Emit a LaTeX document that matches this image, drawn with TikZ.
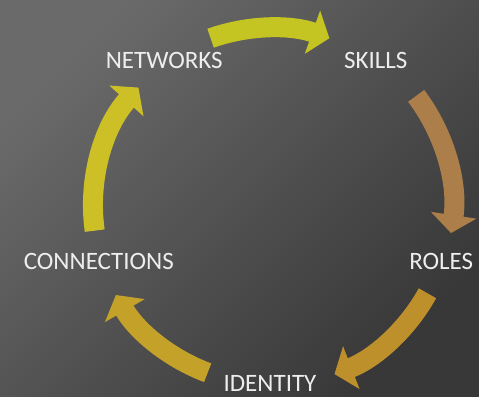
\documentclass[tikz,border=0pt]{standalone}
\usepackage{fontspec}
\setmainfont{Carlito}
\usetikzlibrary{arrows.meta}

\definecolor{bglight}{RGB}{106,106,106}
\definecolor{bgdark}{RGB}{56,56,56}
\definecolor{labeltext}{RGB}{238,238,238}
\definecolor{cyc1}{RGB}{196,196,34}
\definecolor{cyc2}{RGB}{172,126,74}
\definecolor{cyc3}{RGB}{190,144,44}
\definecolor{cyc4}{RGB}{196,162,42}
\definecolor{cyc5}{RGB}{204,192,38}

\begin{document}
\begin{tikzpicture}[x=1bp,y=1bp]
   \tikzstyle{stage}=[text=labeltext,font=\fontsize{25bp}{30bp}\selectfont,inner sep=0pt]
   \tikzstyle{turn}=[line width=20bp,-{Triangle[width=45bp,length=18bp]}]

   \shade[top color=bglight,bottom color=bgdark,shading angle=45] (-270,-190) rectangle (209,206);
   \useasboundingbox (-270,-190) rectangle (209,206);

   \coordinate (c) at (0,0);

   \node[stage] (1) at (126:180) {NETWORKS};
   \node[stage] (2) at (54:180)  {SKILLS};
   \node[stage] (3) at (-18:180) {ROLES};
   \node[stage] (4) at (270:177) {IDENTITY};
   \node[stage] (5) at (198:180) {CONNECTIONS};

   \draw[turn,cyc1] (c) ++(109.5:178) arc[start angle=109.5,end angle=70.5,radius=178];
   \draw[turn,cyc2] (c) ++(37:183)    arc[start angle=37,end angle=-8.5,radius=183];
   \draw[turn,cyc3] (c) ++(-29:180)   arc[start angle=-29,end angle=-69,radius=180];
   \draw[turn,cyc4] (c) ++(249.5:178) arc[start angle=249.5,end angle=210,radius=178];
   \draw[turn,cyc5] (c) ++(188:177)   arc[start angle=188,end angle=138,radius=177];
\end{tikzpicture}
\end{document}
